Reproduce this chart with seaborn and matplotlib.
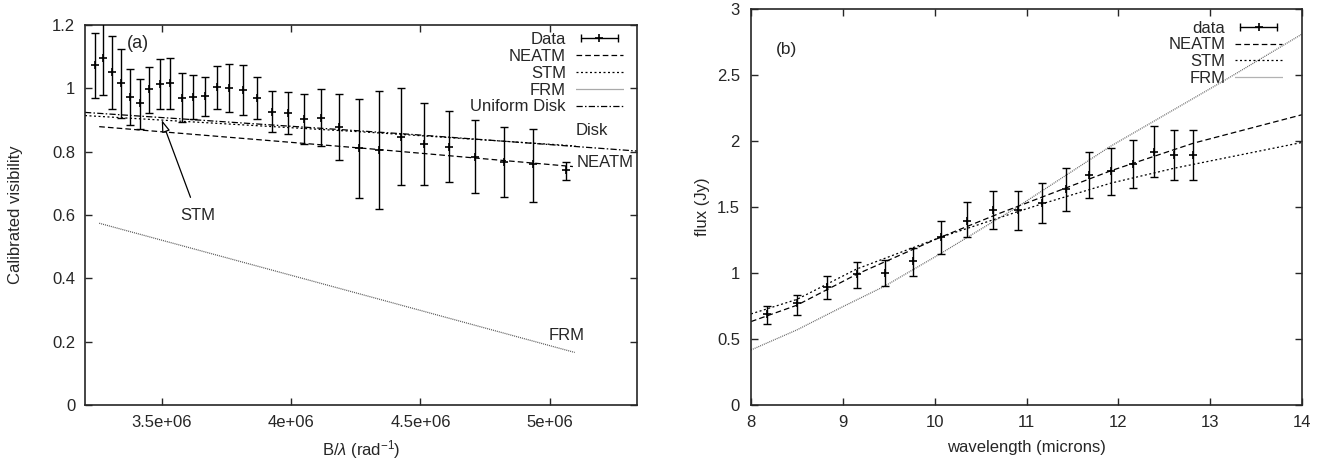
import numpy as np
import pandas as pd
import matplotlib
matplotlib.use("Agg")
import matplotlib.pyplot as plt
import seaborn as sns
from matplotlib.lines import Line2D
from matplotlib.legend_handler import HandlerLine2D, HandlerTuple
from matplotlib.ticker import FuncFormatter, FixedLocator

# ---------------- Panel (a): visibility vs B/lambda ----------------
vis_x = [3.241e6, 3.273e6, 3.306e6, 3.341e6, 3.377e6, 3.413e6, 3.451e6, 3.493e6,
         3.531e6, 3.578e6, 3.619e6, 3.666e6, 3.712e6, 3.761e6, 3.814e6, 3.869e6,
         3.926e6, 3.987e6, 4.049e6, 4.114e6, 4.186e6, 4.262e6, 4.341e6, 4.426e6,
         4.515e6, 4.609e6, 4.713e6, 4.823e6, 4.936e6, 5.064e6]
vis_y = [1.074, 1.095, 1.051, 1.016, 0.972, 0.953, 0.997, 1.014,
         1.016, 0.970, 0.972, 0.976, 1.003, 1.001, 0.996, 0.969,
         0.926, 0.921, 0.903, 0.907, 0.877, 0.811, 0.805, 0.847,
         0.824, 0.816, 0.782, 0.766, 0.760, 0.742]
vis_lo = [0.970, 0.979, 0.934, 0.907, 0.883, 0.873, 0.923, 0.934,
          0.934, 0.894, 0.903, 0.913, 0.935, 0.924, 0.917, 0.902,
          0.861, 0.855, 0.823, 0.819, 0.775, 0.655, 0.619, 0.695,
          0.694, 0.703, 0.669, 0.656, 0.642, 0.711]
vis_hi = [1.176, 1.220, 1.166, 1.123, 1.060, 1.030, 1.067, 1.092,
          1.096, 1.047, 1.041, 1.037, 1.070, 1.077, 1.074, 1.037,
          0.992, 0.987, 0.981, 0.997, 0.981, 0.965, 0.992, 1.000,
          0.955, 0.928, 0.900, 0.879, 0.873, 0.766]

neatm_a_x = [3.257e6, 4.305e6, 5.090e6]
neatm_a_y = [0.879, 0.809, 0.753]
stm_a_x = [3.202e6, 4.305e6, 5.100e6]
stm_a_y = [0.914, 0.861, 0.818]
frm_a_x = [3.257e6, 4.305e6, 5.097e6]
frm_a_y = [0.574, 0.342, 0.166]
disk_x = [3.202e6, 4.440e6, 5.338e6]
disk_y = [0.924, 0.856, 0.802]

# ---------------- Panel (b): flux vs wavelength ----------------
wl = [8.174, 8.50, 8.827, 9.153, 9.461, 9.766, 10.065, 10.353, 10.64,
      10.912, 11.173, 11.431, 11.681, 11.924, 12.16, 12.389, 12.606, 12.816]
flux = [0.688, 0.771, 0.892, 0.991, 0.998, 1.089, 1.271, 1.397, 1.478,
        1.478, 1.529, 1.635, 1.744, 1.769, 1.827, 1.918, 1.892, 1.894]
flux_lo = [0.614, 0.682, 0.804, 0.889, 0.902, 0.976, 1.145, 1.271, 1.332,
           1.327, 1.378, 1.471, 1.569, 1.592, 1.645, 1.726, 1.704, 1.704]
flux_hi = [0.753, 0.834, 0.978, 1.086, 1.099, 1.190, 1.397, 1.539, 1.622,
           1.622, 1.681, 1.799, 1.918, 1.946, 2.009, 2.110, 2.080, 2.085]

neatm_b_x = [8.0, 8.5, 9.15, 10.06, 10.71, 11.92, 12.82, 14.0]
neatm_b_y = [0.632, 0.756, 0.990, 1.270, 1.453, 1.775, 1.984, 2.199]
stm_b_x = [8.0, 8.5, 9.15, 10.06, 10.91, 11.17, 11.92, 12.61, 14.0]
stm_b_y = [0.690, 0.800, 1.030, 1.270, 1.466, 1.524, 1.681, 1.794, 1.989]
frm_b_x = [8.0, 8.5, 9.0, 9.46, 10.06, 10.9, 11.91, 13.2, 14.0]
frm_b_y = [0.417, 0.569, 0.745, 0.902, 1.145, 1.500, 1.958, 2.477, 2.810]

# ---------------- style ----------------
sns.set_style("ticks")
plt.rcParams["font.family"] = ["Liberation Sans", "DejaVu Sans"]
plt.rcParams["font.size"] = 12
plt.rcParams["axes.linewidth"] = 1.2
plt.rcParams["mathtext.fontset"] = "custom"
plt.rcParams["mathtext.rm"] = "Liberation Sans"
plt.rcParams["mathtext.it"] = "Liberation Sans:italic"

W, H = 1327, 459
fig = plt.figure(figsize=(W / 100, H / 100), dpi=100)
ax_a = fig.add_axes([85 / W, 1 - 405 / H, 552 / W, 380 / H])
ax_b = fig.add_axes([751 / W, 1 - 405 / H, 551 / W, 396 / H])

NEATM_LS = (0, (4.5, 2.5))
STM_LS = (0, (1.6, 2.0))
FRM_LS = (0, (0.8, 0.8))
DISK_LS = (0, (5, 1.8, 1.2, 1.8))
LW = 0.9


def style_axes(ax, ypad=7):
    ax.tick_params(direction="in", top=True, right=True, length=5, width=1.0,
                   labelsize=12, pad=7)
    ax.tick_params(axis="y", pad=ypad)
    for s in ax.spines.values():
        s.set_visible(True)
        s.set_linewidth(1.2)


def draw_err(ax, x, y, lo, hi):
    y = np.asarray(y)
    yerr = np.vstack([y - np.asarray(lo), np.asarray(hi) - y])
    ax.errorbar(x, y, yerr=yerr, fmt="none", ecolor="black", elinewidth=1.0,
                capsize=3, capthick=1.0, zorder=3)
    sns.scatterplot(x=x, y=y, ax=ax, marker="+", s=35, color="black",
                    linewidth=1.2, zorder=4)


def data_handle():
    caps = Line2D([], [], color="black", lw=1.0, marker="|", markersize=6,
                  markeredgewidth=1.0)
    plus = Line2D([], [], color="black", lw=0, marker="+", markersize=6,
                  markeredgewidth=1.2)
    return (caps, plus), caps


LEG_KW = dict(frameon=False, markerfirst=False, handlelength=2.8, handletextpad=0.6,
              labelspacing=0.11, borderpad=0.2, fontsize=12)

# ---- panel (a)
ax = ax_a
draw_err(ax, vis_x, vis_y, vis_lo, vis_hi)
sns.lineplot(x=neatm_a_x, y=neatm_a_y, ax=ax, color="black", lw=LW, linestyle=NEATM_LS)
sns.lineplot(x=stm_a_x, y=stm_a_y, ax=ax, color="black", lw=LW, linestyle=STM_LS)
sns.lineplot(x=frm_a_x, y=frm_a_y, ax=ax, color="#555555", lw=LW, linestyle=FRM_LS)
sns.lineplot(x=disk_x, y=disk_y, ax=ax, color="black", lw=LW, linestyle=DISK_LS)
ax.set_xlim(3.202e6, 5.338e6)
ax.set_ylim(0, 1.2)
ax.xaxis.set_major_locator(FixedLocator([3.5e6, 4e6, 4.5e6, 5e6]))
ax.yaxis.set_major_locator(FixedLocator([0, 0.2, 0.4, 0.6, 0.8, 1.0, 1.2]))
ax.xaxis.set_major_formatter(FuncFormatter(lambda v, p: "%g" % v))
ax.yaxis.set_major_formatter(FuncFormatter(lambda v, p: "%g" % round(v, 3)))
style_axes(ax, ypad=7)
ax.set_xlabel(r"B/$\lambda$ (rad$^{-1}$)", fontsize=12)
ax.set_ylabel("Calibrated visibility", fontsize=12)
ax.xaxis.set_label_coords(0.5, -0.087)
ax.yaxis.set_label_coords(-0.112, 0.5)
ax.text(3.364e6, 1.142, "(a)", fontsize=13, ha="left", va="center")
ax.text(5.163e6, 0.868, "Disk", fontsize=12, ha="center", va="center")
ax.text(5.104e6, 0.766, "NEATM", fontsize=12, ha="left", va="center")
ax.text(5.066e6, 0.221, "FRM", fontsize=12, ha="center", va="center")
ax.annotate("STM", xy=(3.499e6, 0.900), xytext=(3.637e6, 0.597),
            fontsize=12, ha="center", va="center",
            arrowprops=dict(arrowstyle="-|>,head_length=0.6,head_width=0.2",
                            color="black", lw=0.9, fc="white", shrinkA=6, shrinkB=0))

dh, caps = data_handle()
handles = [dh,
           Line2D([], [], color="black", lw=LW, linestyle=NEATM_LS),
           Line2D([], [], color="black", lw=LW, linestyle=STM_LS),
           Line2D([], [], color="#555555", lw=LW, linestyle=FRM_LS),
           Line2D([], [], color="black", lw=LW, linestyle=DISK_LS)]
labels = ["Data", "NEATM", "STM", "FRM", "Uniform Disk"]
ax.legend(handles, labels, loc="upper right", bbox_to_anchor=(0.995, 1.012),
          handler_map={caps: HandlerLine2D(numpoints=2),
                       tuple: HandlerTuple(ndivide=1, pad=0)}, **LEG_KW)

# ---- panel (b)
ax = ax_b
draw_err(ax, wl, flux, flux_lo, flux_hi)
sns.lineplot(x=neatm_b_x, y=neatm_b_y, ax=ax, color="black", lw=LW, linestyle=NEATM_LS)
sns.lineplot(x=stm_b_x, y=stm_b_y, ax=ax, color="black", lw=LW, linestyle=STM_LS)
sns.lineplot(x=frm_b_x, y=frm_b_y, ax=ax, color="#666666", lw=LW, linestyle=FRM_LS)
ax.set_xlim(8, 14)
ax.set_ylim(0, 3)
ax.xaxis.set_major_locator(FixedLocator([8, 9, 10, 11, 12, 13, 14]))
ax.yaxis.set_major_locator(FixedLocator([0, 0.5, 1, 1.5, 2, 2.5, 3]))
ax.xaxis.set_major_formatter(FuncFormatter(lambda v, p: "%g" % v))
ax.yaxis.set_major_formatter(FuncFormatter(lambda v, p: "%g" % v))
style_axes(ax, ypad=8)
ax.set_xlabel("wavelength (microns)", fontsize=12)
ax.set_ylabel("flux (Jy)", fontsize=12)
ax.xaxis.set_label_coords(0.5, -0.088)
ax.yaxis.set_label_coords(-0.074, 0.5)
ax.text(8.39, 2.69, "(b)", fontsize=12.5, ha="center", va="center")

dh2, caps2 = data_handle()
handles_b = [dh2,
             Line2D([], [], color="black", lw=LW, linestyle=NEATM_LS),
             Line2D([], [], color="black", lw=LW, linestyle=STM_LS),
             Line2D([], [], color="#666666", lw=LW, linestyle=FRM_LS)]
labels_b = ["data", "NEATM", "STM", "FRM"]
ax.legend(handles_b, labels_b, loc="upper right", bbox_to_anchor=(0.985, 1.0),
          handler_map={caps2: HandlerLine2D(numpoints=2),
                       tuple: HandlerTuple(ndivide=1, pad=0)}, **LEG_KW)

fig.savefig("out.png", dpi=100)
